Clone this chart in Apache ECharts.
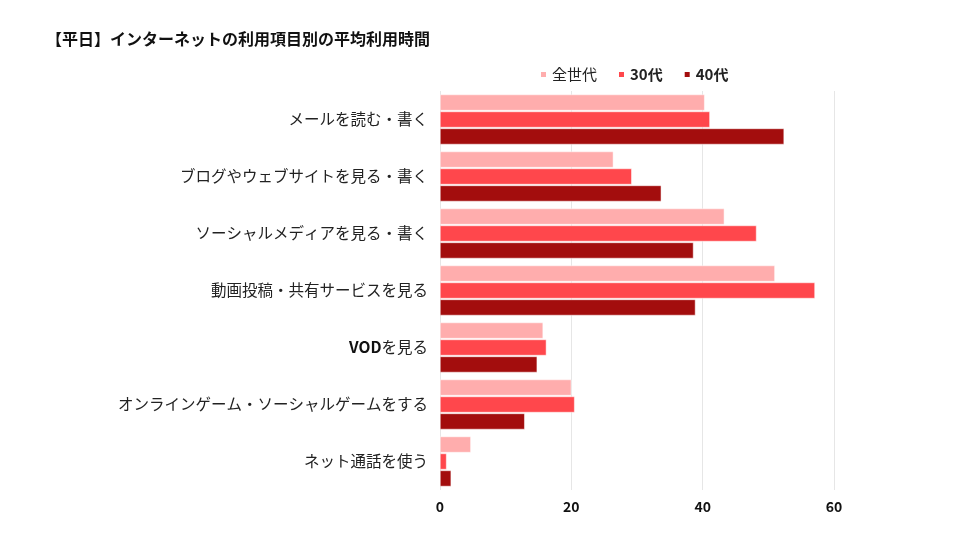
<!DOCTYPE html>
<html><head><meta charset="utf-8">
<script src="https://cdn.jsdelivr.net/npm/echarts@6/dist/echarts.min.js"></script>
<style>html,body{margin:0;padding:0;background:#fff}#c{width:960px;height:540px}</style>
</head><body><div id="c"></div>
<script>
const categories = ['メールを読む・書く','ブログやウェブサイトを見る・書く','ソーシャルメディアを見る・書く','動画投稿・共有サービスを見る','VODを見る','オンラインゲーム・ソーシャルゲームをする','ネット通話を使う'];
const seriesNames = ['全世代','30代','40代'];
const allAges = [40.3, 26.4, 43.3, 51.0, 15.7, 20.0, 4.7];
const age30 = [41.1, 29.2, 48.2, 57.1, 16.2, 20.5, 1.0];
const age40 = [52.4, 33.7, 38.6, 38.9, 14.8, 12.9, 1.7];
const xTicks = [0, 20, 40, 60];
const colors = ['#FFADAD', '#FF474C', '#A30D0D'];
const font = '"Noto Sans CJK JP", "Noto Sans", sans-serif';
const chart = echarts.init(document.getElementById('c'));
const mk = (name, data, i) => ({
  name, type: 'bar', data, barWidth: 16, barGap: '6%', barCategoryGap: '12%',
  itemStyle: { color: colors[i], borderColor: '#fff', borderWidth: 0.5 }
});
const boldLatin = s => s.replace(/([A-Za-z0-9]+)/g, '{b|$1}');
chart.setOption({
  textStyle: { fontFamily: font },
  title: { text: '【平日】インターネットの利用項目別の平均利用時間', left: 41, top: 26,
    textStyle: { fontSize: 16, fontWeight: 'bold', color: '#111', fontFamily: font } },
  legend: { data: seriesNames, left: 534, top: 62, icon: 'rect', itemWidth: 7, itemHeight: 7, itemGap: 20,
    formatter: n => /\d/.test(n) ? '{b|' + n + '}' : n,
    textStyle: { fontSize: 15, color: '#222', fontFamily: font,
      rich: { b: { fontSize: 15, fontWeight: 'bold', color: '#222', fontFamily: font } } } },
  grid: { left: 440, right: 126, top: 91, bottom: 50 },
  xAxis: { type: 'value', min: xTicks[0], max: xTicks[xTicks.length-1], interval: 20,
    axisLine: { show: false }, axisTick: { show: false },
    splitLine: { lineStyle: { color: '#e6e6e6' } },
    axisLabel: { fontSize: 14, fontWeight: 'bold', color: '#111', margin: 10, fontFamily: font } },
  yAxis: { type: 'category', data: categories, inverse: true,
    axisLine: { show: false }, axisTick: { show: false },
    axisLabel: { fontSize: 15.5, color: '#222', margin: 12, fontFamily: font,
      formatter: v => boldLatin(v),
      rich: { b: { fontSize: 15.5, fontWeight: 'bold', color: '#111', fontFamily: font } } } },
  series: [mk(seriesNames[0], allAges, 0), mk(seriesNames[1], age30, 1), mk(seriesNames[2], age40, 2)]
});
</script></body></html>
